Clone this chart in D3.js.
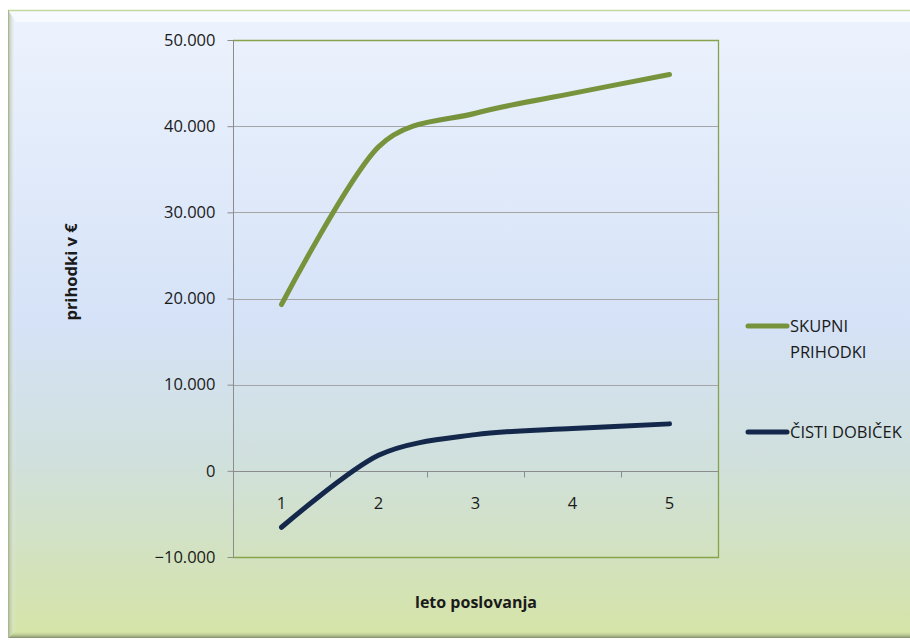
<!DOCTYPE html>
<html>
<head>
<meta charset="utf-8">
<script src="https://cdn.jsdelivr.net/npm/d3@7"></script>
<style>
  html, body { margin: 0; padding: 0; background: #ffffff; }
  svg { display: block; }
  text { font-family: "Open Sans", "Lato", sans-serif; fill: #1a1a1a; }
</style>
</head>
<body>
<svg id="chart" width="910" height="640"></svg>
<script>
// Years of operation and yearly totals (EUR)
const years = ["1", "2", "3", "4", "5"];
const skupniPrihodki = [19300, 37600, 41500, 43800, 46000];
const cistiDobicek = [-6550, 1800, 4200, 4900, 5450];
const yTicks = [-10000, 0, 10000, 20000, 30000, 40000, 50000];
const seriesNames = ["SKUPNI PRIHODKI", "ČISTI DOBIČEK"];
const seriesColors = ["#77933c", "#14284b"];

(function draw() {
const svg = d3.select("#chart");
const W = 910, H = 640;

// Background panel with a soft bevelled edge
const defs = svg.append("defs");
const bg = defs.append("linearGradient").attr("id", "bgGrad")
  .attr("x1", 0).attr("y1", 0).attr("x2", 0).attr("y2", 1);
bg.append("stop").attr("offset", "0%").attr("stop-color", "#edf3fd");
bg.append("stop").attr("offset", "50%").attr("stop-color", "#d5e2f7");
bg.append("stop").attr("offset", "72%").attr("stop-color", "#d0e0dc");
bg.append("stop").attr("offset", "100%").attr("stop-color", "#d5e4a6");

const leftG = defs.append("linearGradient").attr("id", "leftGrad")
  .attr("x1", 0).attr("y1", 0).attr("x2", 1).attr("y2", 0);
leftG.append("stop").attr("offset", "0%").attr("stop-color", "#9aa98a").attr("stop-opacity", 0.8);
leftG.append("stop").attr("offset", "100%").attr("stop-color", "#ffffff").attr("stop-opacity", 0);

const botG = defs.append("linearGradient").attr("id", "botGrad")
  .attr("x1", 0).attr("y1", 0).attr("x2", 0).attr("y2", 1);
botG.append("stop").attr("offset", "0%").attr("stop-color", "#d6e4a8").attr("stop-opacity", 0);
botG.append("stop").attr("offset", "100%").attr("stop-color", "#7f8c67").attr("stop-opacity", 1);

const px0 = 8, py0 = 10, py1 = 638;
svg.append("rect").attr("x", px0).attr("y", py0).attr("width", W - px0 + 10).attr("height", py1 - py0)
  .attr("fill", "url(#bgGrad)");
// top bevel
svg.append("path")
  .attr("d", `M${px0},${py0} L${W + 10},${py0} L${W + 10},${py0 + 12} L${px0 + 8},${py0 + 12} Z`)
  .attr("fill", "#ffffff").attr("opacity", 0.55);
// left bevel
svg.append("path")
  .attr("d", `M${px0},${py0} L${px0 + 8},${py0 + 12} L${px0 + 8},${py1 - 7} L${px0},${py1} Z`)
  .attr("fill", "url(#leftGrad)");
// bottom bevel
svg.append("path")
  .attr("d", `M${px0},${py1} L${px0 + 8},${py1 - 7} L${W + 10},${py1 - 7} L${W + 10},${py1} Z`)
  .attr("fill", "url(#botGrad)");
svg.append("line").attr("x1", px0).attr("x2", W + 10).attr("y1", py0 + 0.5).attr("y2", py0 + 0.5)
  .attr("stroke", "#c4d79c").attr("stroke-width", 1.5);
svg.append("line").attr("x1", px0 + 0.5).attr("x2", px0 + 0.5).attr("y1", py0).attr("y2", py1)
  .attr("stroke", "#a9b98c").attr("stroke-width", 1);

// Plot area
const pLeft = 233, pRight = 718, pTop = 40, pBottom = 557;

const x = d3.scaleBand().domain(years).range([pLeft, pRight]).paddingInner(0).paddingOuter(0);
const y = d3.scaleLinear().domain([-10000, 50000]).range([pBottom, pTop]);

const fmt = v => d3.format(",")(v).replace(/,/g, ".");

// horizontal gridlines
svg.append("g").selectAll("line")
  .data(yTicks.filter(t => t !== -10000 && t !== 50000 && t !== 0))
  .join("line")
  .attr("x1", pLeft).attr("x2", pRight)
  .attr("y1", d => Math.round(y(d)) + 0.5).attr("y2", d => Math.round(y(d)) + 0.5)
  .attr("stroke", "#a5a5a5").attr("stroke-width", 1.2);

// plot border (top, right, bottom)
svg.append("path")
  .attr("d", `M${pLeft},${pTop + 0.5} L${pRight + 0.5},${pTop + 0.5} L${pRight + 0.5},${pBottom + 0.5} L${pLeft},${pBottom + 0.5}`)
  .attr("fill", "none").attr("stroke", "#86a34c").attr("stroke-width", 1.3);

// Y axis
const yAxis = d3.axisLeft(y).tickValues(yTicks).tickFormat(fmt).tickSize(6).tickPadding(12);
const gy = svg.append("g").attr("transform", `translate(${pLeft + 0.5},0)`).call(yAxis);
gy.select(".domain").attr("stroke", "#8c8c8c").attr("d", `M0,${pTop}V${pBottom}`);
gy.selectAll(".tick line").attr("stroke", "#8c8c8c");
gy.selectAll(".tick text").attr("font-size", 16.5).attr("fill", "#1a1a1a")
  .attr("font-family", "'Open Sans', sans-serif");

// Category axis along the zero line
const zeroY = Math.round(y(0)) + 0.5;
const xAxis = d3.axisBottom(x).tickSize(0).tickPadding(26);
const gx = svg.append("g").attr("transform", `translate(0,${zeroY})`).call(xAxis);
gx.select(".domain").attr("stroke", "#8c8c8c").attr("d", `M${pLeft},0H${pRight}`);
gx.selectAll(".tick text").attr("font-size", 16.5).attr("fill", "#1a1a1a")
  .attr("font-family", "'Open Sans', sans-serif");
// boundary tick marks between categories
gx.append("g").selectAll("line")
  .data(years.slice(1))
  .join("line")
  .attr("x1", d => Math.round(x(d)) + 0.5).attr("x2", d => Math.round(x(d)) + 0.5)
  .attr("y1", 0).attr("y2", 6)
  .attr("stroke", "#8c8c8c");

// Series lines, smoothed
const line = d3.line()
  .x((d, i) => x(years[i]) + x.bandwidth() / 2)
  .y(d => y(d))
  .curve(d3.curveCardinal.tension(0.1));

[skupniPrihodki, cistiDobicek].forEach((vals, i) => {
  svg.append("path")
    .datum(vals)
    .attr("d", line)
    .attr("fill", "none")
    .attr("stroke", seriesColors[i])
    .attr("stroke-width", 5)
    .attr("stroke-linecap", "round")
    .attr("stroke-linejoin", "round");
});

// Axis titles
svg.append("text")
  .attr("transform", "translate(77,272) rotate(-90)")
  .attr("text-anchor", "middle")
  .attr("font-size", 16.5).attr("font-weight", "bold")
  .text("prihodki v €");

svg.append("text")
  .attr("x", 476).attr("y", 608)
  .attr("text-anchor", "middle")
  .attr("font-size", 16).attr("font-weight", "bold")
  .text("leto poslovanja");

// Legend
const legendRows = [
  { y: 326, lines: ["SKUPNI", "PRIHODKI"] },
  { y: 432, lines: ["ČISTI DOBIČEK"] }
];
legendRows.forEach((row, i) => {
  const g = svg.append("g");
  g.append("line")
    .attr("x1", 748).attr("x2", 787)
    .attr("y1", row.y).attr("y2", row.y)
    .attr("stroke", seriesColors[i]).attr("stroke-width", 5)
    .attr("stroke-linecap", "round");
  const t = g.append("text").attr("x", 790).attr("y", row.y + 6)
    .attr("font-size", 16.5).attr("font-family", "'Open Sans', sans-serif");
  row.lines.forEach((s, j) => {
    t.append("tspan").attr("x", 790).attr("dy", j === 0 ? 0 : 25.5).text(s);
  });
});
})();
</script>
</body>
</html>
